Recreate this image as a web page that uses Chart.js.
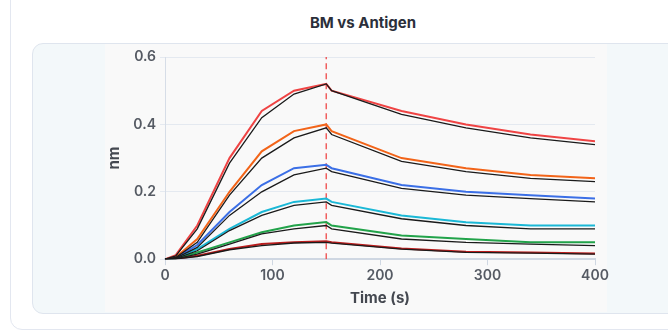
<!DOCTYPE html>
<html>
<head>
    <meta charset="utf-8">
    <script src="https://cdn.jsdelivr.net/npm/chart.js@4.4.1/dist/chart.umd.min.js"></script>
    <style>
        html, body { margin: 0; padding: 0; background: #ffffff; overflow: hidden; }
        body { width: 668px; height: 331px; position: relative; font-family: Inter, "Noto Sans", sans-serif; }
        .card {
            position: absolute; left: 10px; top: -20px; width: 720px; height: 350px;
            border: 1px solid #e3e7f0; border-radius: 12px; box-sizing: border-box;
        }
        .title {
            position: absolute; left: 10px; width: 706px; top: 13px;
            text-align: center; font-weight: 700; font-size: 15px; color: #2b2f3a;
        }
        .box {
            position: absolute; left: 32px; top: 43px; width: 680px; height: 271px;
            background: #f3f8fa; border: 1px solid #dfe5ee; border-radius: 11px; box-sizing: border-box;
        }
        .canvas-bg {
            position: absolute; left: 105px; top: 44px; width: 502px; height: 268px;
            background: #f9f9f9;
        }
        #chart-container {
            position: absolute; left: 105px; top: 44px; width: 512px; height: 268px;
        }
    </style>
</head>
<body>
    <div class="card"></div>
    <div class="title">BM vs Antigen</div>
    <div class="box"></div>
    <div class="canvas-bg"></div>
    <div id="chart-container">
        <canvas id="bindingChart" width="512" height="268"></canvas>
    </div>
    <script>
        // time points (s)
        const times = [0, 10, 30, 60, 90, 120, 150, 155, 220, 280, 340, 400];

        // measured responses (nm), one per concentration
        const measured1 = [0, 0.012, 0.10, 0.30, 0.44, 0.50, 0.52, 0.50, 0.44, 0.40, 0.37, 0.35];
        const measured2 = [0, 0.006, 0.06, 0.20, 0.32, 0.38, 0.40, 0.38, 0.30, 0.27, 0.25, 0.24];
        const measured3 = [0, 0.004, 0.042, 0.14, 0.22, 0.27, 0.28, 0.27, 0.22, 0.20, 0.19, 0.18];
        const measured4 = [0, 0.003, 0.03, 0.09, 0.14, 0.17, 0.18, 0.17, 0.13, 0.11, 0.10, 0.10];
        const measured5 = [0, 0.002, 0.02, 0.05, 0.08, 0.10, 0.11, 0.10, 0.07, 0.06, 0.05, 0.05];
        const measured6 = [0, 0.001, 0.01, 0.03, 0.045, 0.05, 0.053, 0.05, 0.032, 0.022, 0.02, 0.017];

        // fitted curves (nm)
        const fit1 = [0, 0.010, 0.09, 0.285, 0.42, 0.49, 0.52, 0.50, 0.43, 0.39, 0.36, 0.34];
        const fit2 = [0, 0.005, 0.05, 0.19, 0.30, 0.36, 0.39, 0.37, 0.29, 0.26, 0.24, 0.23];
        const fit3 = [0, 0.003, 0.035, 0.13, 0.20, 0.25, 0.27, 0.26, 0.21, 0.19, 0.18, 0.17];
        const fit4 = [0, 0.002, 0.025, 0.085, 0.13, 0.16, 0.17, 0.16, 0.12, 0.10, 0.09, 0.09];
        const fit5 = [0, 0.001, 0.015, 0.045, 0.075, 0.09, 0.10, 0.09, 0.06, 0.05, 0.045, 0.04];
        const fit6 = [0, 0.001, 0.008, 0.028, 0.04, 0.048, 0.05, 0.048, 0.03, 0.02, 0.018, 0.015];

        const seriesColors = ['#ef4444', '#f26419', '#3b6fe6', '#1bb8d6', '#22a34a', '#b91c1c'];
        const dissociationStart = 150;
        const yTicks = [0, 0.2, 0.4, 0.6];

        const measured = [measured1, measured2, measured3, measured4, measured5, measured6];
        const fits = [fit1, fit2, fit3, fit4, fit5, fit6];

        const toPoints = arr => arr.map((v, i) => ({ x: times[i], y: v }));

        const datasets = [];
        measured.forEach((arr, i) => {
            datasets.push({
                label: 'Conc ' + (i + 1),
                data: toPoints(arr),
                borderColor: seriesColors[i],
                borderWidth: 2,
                pointRadius: 0,
                tension: 0,
                order: 1
            });
        });
        fits.forEach((arr, i) => {
            datasets.push({
                label: 'Fit ' + (i + 1),
                data: toPoints(arr),
                borderColor: '#1a1a1a',
                borderWidth: 1.3,
                pointRadius: 0,
                tension: 0,
                order: 0
            });
        });
        datasets.push({
            label: 'Dissociation',
            data: [{ x: dissociationStart, y: 0 }, { x: dissociationStart, y: 0.6 }],
            borderColor: 'rgba(239,68,68,0.85)',
            borderWidth: 1.5,
            borderDash: [6, 4],
            pointRadius: 0,
            order: 2
        });

        const tickFont = { family: 'Inter', size: 14, weight: '600' };
        const ctx = document.getElementById('bindingChart').getContext('2d');

        const bindingChart = new Chart(ctx, {
            type: 'line',
            data: { datasets: datasets },
            options: {
                responsive: false,
                animation: false,
                layout: { padding: { top: 13, right: 0, left: 0, bottom: 5 } },
                plugins: {
                    legend: { display: false },
                    tooltip: { enabled: false }
                },
                scales: {
                    x: {
                        type: 'linear',
                        min: 0,
                        max: 400,
                        afterFit: scale => { scale.paddingRight = 22; },
                        ticks: { stepSize: 100, color: '#555a63', font: tickFont, padding: 2 },
                        grid: { drawOnChartArea: false, color: '#cfd7e2', tickLength: 6 },
                        border: { color: '#cfd7e2', width: 2 },
                        title: {
                            display: true, text: 'Time (s)', color: '#444850',
                            font: { family: 'Inter', size: 15, weight: '700' }, padding: { top: 3, bottom: 0 }
                        }
                    },
                    y: {
                        min: 0,
                        max: 0.6,
                        afterBuildTicks: scale => { scale.ticks = yTicks.map(v => ({ value: v })); },
                        afterFit: scale => { scale.width = 60; },
                        ticks: { color: '#555a63', font: tickFont, padding: 4, callback: v => v.toFixed(1) },
                        grid: { color: '#e4e9f0', tickLength: 5 },
                        border: { color: '#d6dde7', width: 1 },
                        title: {
                            display: true, text: 'nm', color: '#444850',
                            font: { family: 'Inter', size: 15, weight: '700' }, padding: 0
                        }
                    }
                }
            }
        });
    </script>
</body>
</html>
